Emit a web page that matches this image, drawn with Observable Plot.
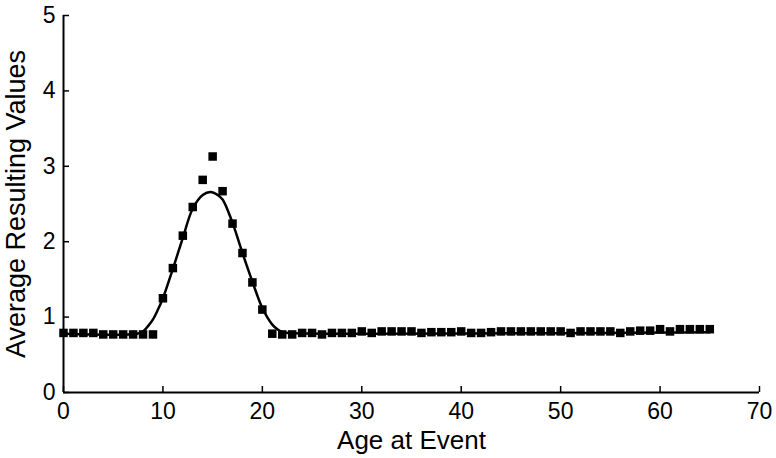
<!DOCTYPE html>
<html><head><meta charset="utf-8">
<script src="https://cdn.jsdelivr.net/npm/d3@7"></script>
<script src="https://cdn.jsdelivr.net/npm/@observablehq/plot@0.6"></script>
<style>body{margin:0;background:#fff}</style>
</head><body><div id="chart"></div>
<script>
const ages = [0,1,2,3,4,5,6,7,8,9,10,11,12,13,14,15,16,17,18,19,20,21,22,23,24,25,26,27,28,29,30,31,32,33,34,35,36,37,38,39,40,41,42,43,44,45,46,47,48,49,50,51,52,53,54,55,56,57,58,59,60,61,62,63,64,65];
const values = [0.79,0.79,0.79,0.79,0.77,0.77,0.77,0.77,0.77,0.77,
  1.25,1.65,2.08,2.46,2.82,3.13,2.67,2.24,1.85,1.46,
  1.10,0.78,0.77,0.77,0.79,0.79,0.77,0.79,0.79,0.79,
  0.81,0.79,0.81,0.81,0.81,0.81,0.79,0.80,0.80,0.80,
  0.81,0.79,0.79,0.80,0.81,0.81,0.81,0.81,0.81,0.81,
  0.81,0.79,0.81,0.81,0.81,0.81,0.79,0.81,0.82,0.82,
  0.84,0.81,0.84,0.84,0.84,0.84];
const fitX = [0,7.4,8.0,8.5,9.0,9.5,10,11,12,13,14,14.8,15.5,16,17,18,19,20,21,21.5,22,22.6,65];
const fitY = [0.78,0.78,0.81,0.88,0.97,1.10,1.25,1.64,2.05,2.44,2.62,2.66,2.62,2.56,2.25,1.85,1.47,1.12,0.90,0.84,0.80,0.79,0.80];
const xTicks = [0,10,20,30,40,50,60,70];
const yTicks = [0,1,2,3,4,5];
const xLabel = "Age at Event";
const yLabel = "Average Resulting Values";

const points = ages.map((a, i) => ({age: a, value: values[i]}));
const fit = fitX.map((x, i) => ({x, y: fitY[i]}));

const W = 776, H = 458, mL = 63, mR = 17, mT = 15, mB = 66;
const innerW = W - mL - mR, innerH = H - mT - mB;
const font = "'Liberation Sans', Arial, sans-serif";

const chart = Plot.plot({
  width: W, height: H,
  marginLeft: mL, marginRight: mR, marginTop: mT, marginBottom: mB,
  style: {fontFamily: font, background: "#fff", color: "#000", overflow: "visible"},
  x: {domain: [0, 70]},
  y: {domain: [0, 5]},
  marks: [
    Plot.axisX(xTicks, {tickSize: 0, tickPadding: 10, fontSize: 23, tickFormat: "d", label: null}),
    Plot.axisY(yTicks, {tickSize: 0, tickPadding: 8, fontSize: 23, tickFormat: "d", label: null}),
    Plot.axisX({ticks: [], tickSize: 0, fontSize: 26, label: xLabel, labelAnchor: "center", labelOffset: 56, labelArrow: "none"}),
    Plot.axisY({ticks: [], tickSize: 0, fontSize: 27, label: yLabel, labelAnchor: "center", labelOffset: 58, labelArrow: "none"}),
    Plot.tickX(xTicks, {x: d => d, insetTop: innerH - 6, stroke: "#000", strokeWidth: 1.5}),
    Plot.tickY(yTicks, {y: d => d, insetRight: innerW - 6, stroke: "#000", strokeWidth: 1.5}),
    Plot.ruleX([0], {stroke: "#000", strokeWidth: 2}),
    Plot.ruleY([0], {stroke: "#000", strokeWidth: 2}),
    Plot.line(fit, {x: "x", y: "y", curve: "catmull-rom", stroke: "#000", strokeWidth: 2.5}),
    Plot.dot(points, {x: "age", y: "value", symbol: "square", r: 4.8, fill: "#000", stroke: "none"})
  ]
});
document.getElementById("chart").appendChild(chart);
</script>
</body></html>
